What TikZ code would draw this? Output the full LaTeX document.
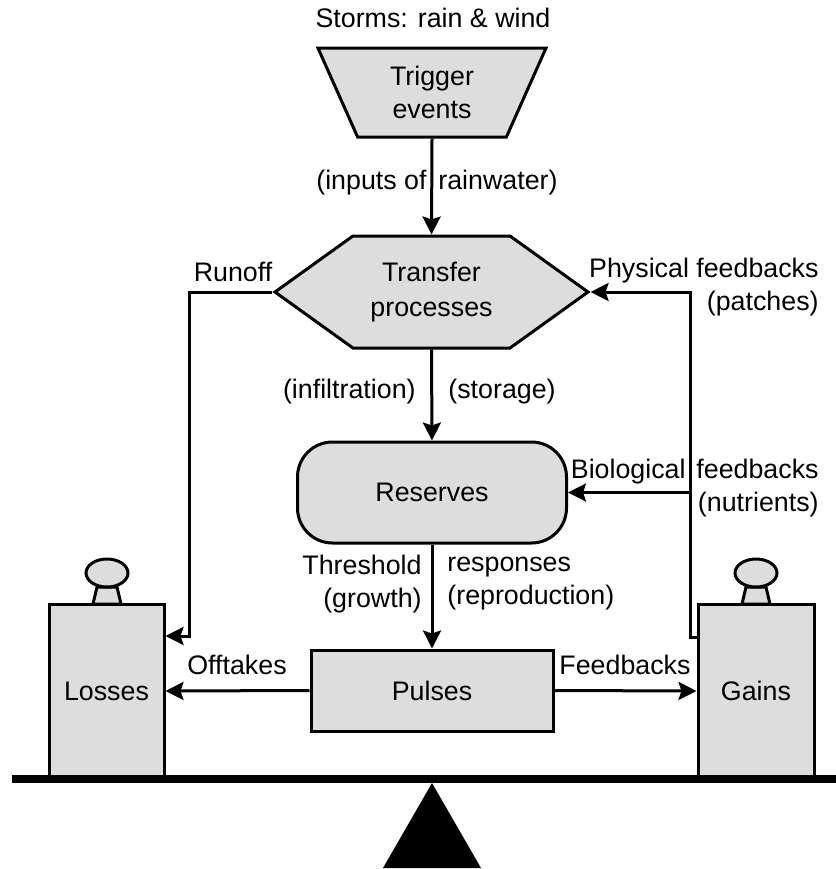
\documentclass[tikz,border=0pt]{standalone}
\usepackage{fontspec}
\setmainfont{Liberation Sans}
\usetikzlibrary{arrows.meta,shapes.geometric,shapes.symbols}
\definecolor{boxgray}{RGB}{221,221,221}
\tikzset{
  box/.style={draw,fill=boxgray,line width=1.5pt,align=center,inner sep=0pt},
  lbl/.style={inner sep=0pt,align=center},
  flow/.style={line width=1.5pt,-{Stealth[length=9pt,width=9pt,inset=1.5pt]}},
  link/.style={line width=1.5pt}
}
\begin{document}
\begin{tikzpicture}[x=0.5pt,y=-0.5pt,font=\fontsize{13.4}{16.5}\selectfont]
\useasboundingbox (0,0) rectangle (836,869);
% boxes
\node[box,trapezium,shape border rotate=180,trapezium left angle=67,trapezium right angle=67,
  trapezium stretches,minimum width=114.5pt,minimum height=44.5pt] (trigger) at (432,92.5) {Trigger\\events};
\node[box,signal,signal to=east and west,signal pointer angle=71.4,
  minimum width=156.5pt,minimum height=56pt,font=\fontsize{13.4}{17.5}\selectfont] (transfer) at (431.5,292) {Transfer\\processes};
\node[box,rounded corners=17.5pt,minimum width=134.5pt,minimum height=50.5pt] (reserves) at (432,492.5) {Reserves};
\node[box,minimum width=121pt,minimum height=40.5pt] (pulses) at (432,690.5) {Pulses};
\node[box,minimum width=57.5pt,minimum height=87pt] (losses) at (106.5,691) {Losses};
\node[box,minimum width=58pt,minimum height=87pt] (gains) at (756,691) {Gains};
% weights
\foreach \wx in {107,756}{
  \draw[box] (\wx-10,587)--(\wx-14,604)--(\wx+14,604)--(\wx+10,587)--cycle;
  \draw[box] (\wx,573) ellipse [x radius=21,y radius=14];
}
% balance
\draw[line width=4pt] (12,779)--(836,779);
\fill (432,783)--(383,868)--(481,868)--cycle;
% labels
\node[lbl] (storms) at (433,18) {Storms: rain \& wind};
\node[lbl,anchor=east] (inputs) at (427,183) {(inputs of};
\node[lbl,anchor=west] (rain) at (438,183) {rainwater)};
\node[lbl] (runoff) at (233,272) {Runoff};
\node[lbl,anchor=east] (infil) at (416,392) {(infiltration)};
\node[lbl,anchor=west] (storage) at (448,392) {(storage)};
\node[lbl,align=right,anchor=east] (thresh) at (422,584) {Threshold\\(growth)};
\node[lbl,align=left,anchor=west] (resp) at (447,584) {responses\\(reproduction)};
\node[lbl] (offtakes) at (237,665) {Offtakes};
\node[lbl] (feedb) at (625,665) {Feedbacks};
\node[lbl,align=right,anchor=east] (phys) at (819,287) {Physical feedbacks\\(patches)};
\node[lbl,anchor=east] (bio) at (686,472) {Biological};
\node[lbl,align=right,anchor=east] (nutr) at (819,488) {feedbacks\\(nutrients)};
% connectors
\coordinate (rcorner) at (189,636);
\coordinate (fcorner) at (690,637);
\draw[flow] (trigger.south)--(transfer.north);
\draw[flow] (transfer.south)--(reserves.north);
\draw[flow] (reserves.south)--(pulses.north);
\draw[flow] (pulses.west)--(losses.east);
\draw[flow] (pulses.east)--(gains.west);
\draw[flow] (transfer.west)-|(rcorner)--(losses.east|-rcorner);
\draw[flow] (gains.west|-fcorner)--(fcorner)|-(transfer.east);
\draw[flow] (fcorner|-reserves.east)--(reserves.east);
\end{tikzpicture}
\end{document}
